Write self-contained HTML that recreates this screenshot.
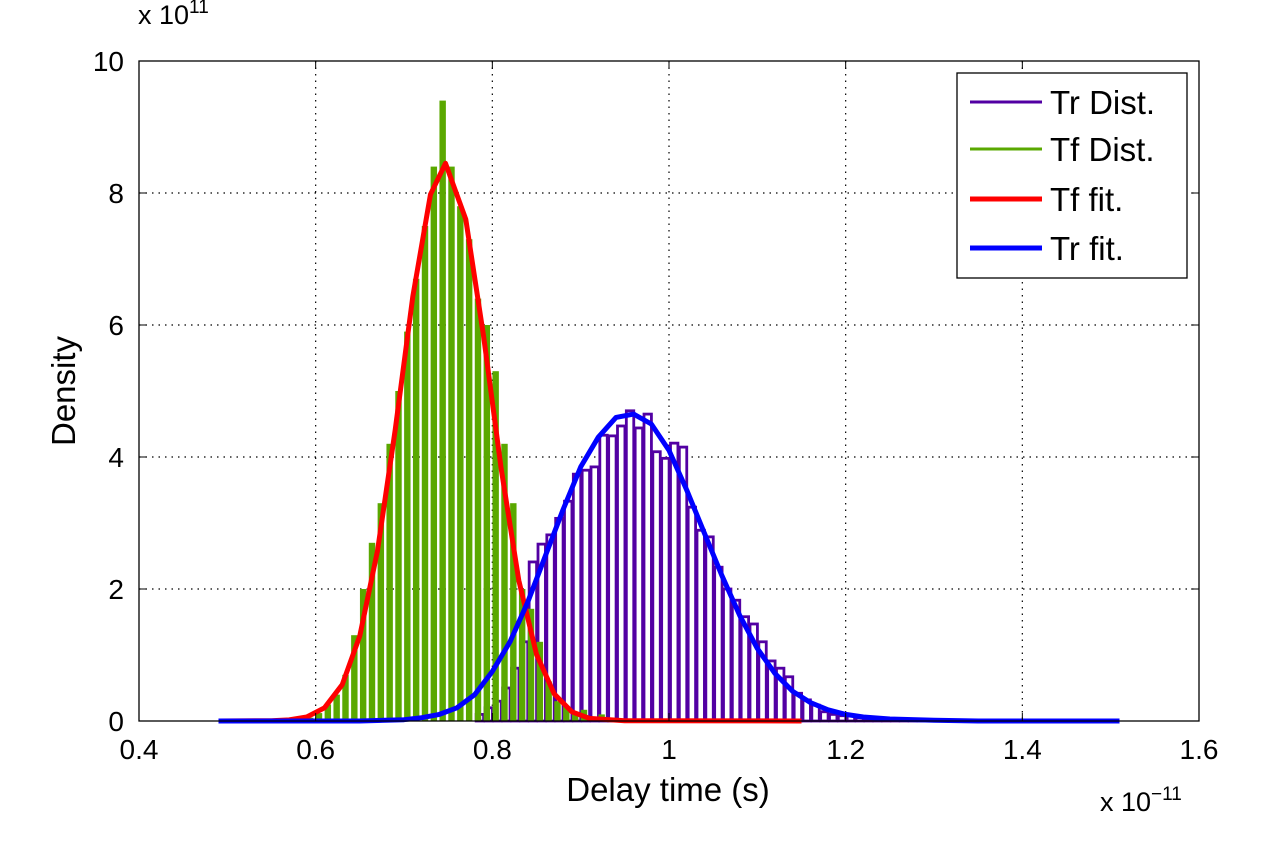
<!DOCTYPE html>
<html><head><meta charset="utf-8"><style>
body{margin:0;background:#fff;width:1269px;height:838px;overflow:hidden}
svg text{font-family:"Liberation Sans",Arial,sans-serif;fill:#000}
</style></head><body>
<svg id="chart" width="1269" height="838" xmlns="http://www.w3.org/2000/svg">
<g id="grid"></g>
<g id="bars"></g>
<g id="fits"></g>
<rect x="139" y="61" width="1060" height="660" fill="none" stroke="#000" stroke-width="1.3"/>
<g id="ticks"></g>
<text x="138" y="24" font-size="27">x 10<tspan font-size="19" dy="-11">11</tspan></text>
<text x="1100" y="811" font-size="27">x 10<tspan font-size="19" dy="-11">−11</tspan></text>
<text x="668" y="801" font-size="33" text-anchor="middle">Delay time (s)</text>
<text transform="translate(75,391) rotate(-90)" font-size="33" text-anchor="middle">Density</text>
<g>
<rect x="957" y="73" width="230" height="205" fill="#fff" stroke="#000" stroke-width="1.3"/>
<line x1="970" y1="102" x2="1042" y2="102" stroke="#5200a3" stroke-width="3"/>
<text x="1050" y="114" font-size="33">Tr Dist.</text>
<line x1="970" y1="149" x2="1042" y2="149" stroke="#5aa800" stroke-width="3"/>
<text x="1050" y="161" font-size="33">Tf Dist.</text>
<line x1="970" y1="199" x2="1042" y2="199" stroke="#ff0000" stroke-width="5"/>
<text x="1050" y="211" font-size="33">Tf fit.</text>
<line x1="970" y1="248" x2="1042" y2="248" stroke="#0000ff" stroke-width="5"/>
<text x="1050" y="260" font-size="33">Tr fit.</text>
</g>
</svg>
<script>
const xTicks=[0.4,0.6,0.8,1.0,1.2,1.4,1.6];
const xTickLabels=["0.4","0.6","0.8","1","1.2","1.4","1.6"];
const yTicks=[0,2,4,6,8,10];
const yTickLabels=["0","2","4","6","8","10"];
const binWidth=0.0101;
const tfBinStarts=[0.589,0.599,0.609,0.619,0.629,0.639,0.649,0.659,0.669,0.679,0.689,0.699,0.709,0.719,0.729,0.739,0.749,0.759,0.769,0.779,0.789,0.799,0.809,0.819,0.829,0.839,0.849,0.859,0.869,0.879,0.889,0.899,0.909,0.919];
const tfDensity=[0.05,0.12,0.25,0.4,0.7,1.3,2.0,2.7,3.3,4.2,5.0,5.9,6.7,7.5,8.4,9.4,8.4,7.8,7.3,6.4,6.0,5.3,4.2,3.3,2.0,1.7,1.2,0.6,0.3,0.22,0.1,0.17,0.05,0.1];
const trBinStarts=[0.78,0.79,0.80,0.81,0.82,0.83,0.84,0.85,0.86,0.87,0.88,0.89,0.90,0.91,0.92,0.93,0.94,0.95,0.96,0.97,0.98,0.99,1.00,1.01,1.02,1.03,1.04,1.05,1.06,1.07,1.08,1.09,1.10,1.11,1.12,1.13,1.14,1.15,1.16,1.17,1.18,1.19,1.20,1.21,1.22,1.23,1.24,1.25,1.26,1.27,1.28,1.29];
const trDensity=[0.1,0.2,0.3,0.5,0.8,1.2,2.41,2.68,2.82,3.07,3.33,3.74,3.8,3.85,4.33,4.32,4.47,4.7,4.44,4.65,4.08,3.98,4.21,4.15,3.24,2.89,2.79,2.33,2.0,1.83,1.58,1.47,1.2,0.91,0.8,0.67,0.42,0.32,0.24,0.14,0.1,0.08,0.08,0.05,0.04,0.04,0.03,0.03,0.02,0.02,0.02,0.02];
const tfFitX=[0.49,0.55,0.57,0.59,0.61,0.63,0.65,0.67,0.69,0.71,0.73,0.747,0.77,0.79,0.81,0.83,0.85,0.87,0.89,0.91,0.95,1.15];
const tfFitY=[0,0.004,0.016,0.06,0.2,0.55,1.29,2.58,4.41,6.43,7.98,8.45,7.6,5.84,3.82,2.13,1.01,0.41,0.14,0.04,0.005,0];
const trFitX=[0.49,0.65,0.70,0.72,0.74,0.76,0.78,0.80,0.82,0.84,0.86,0.88,0.90,0.92,0.94,0.96,0.98,1.00,1.02,1.04,1.06,1.08,1.10,1.12,1.14,1.16,1.18,1.20,1.22,1.25,1.30,1.35,1.51];
const trFitY=[0,0,0.02,0.05,0.1,0.2,0.4,0.75,1.2,1.8,2.5,3.2,3.85,4.3,4.6,4.65,4.5,4.1,3.5,2.85,2.2,1.6,1.1,0.72,0.45,0.28,0.17,0.1,0.06,0.03,0.01,0,0];
const NS='http://www.w3.org/2000/svg';
const X0=139,X1=1199,Y0=721,Y1=61;
const sx=v=>X0+(v-0.4)/1.2*(X1-X0);
const sy=v=>Y0-v/10*(Y0-Y1);
function mk(tag,attrs,parent){const e=document.createElementNS(NS,tag);for(const k in attrs)e.setAttribute(k,attrs[k]);parent.appendChild(e);return e;}
const grid=document.getElementById('grid'),ticks=document.getElementById('ticks'),bars=document.getElementById('bars'),fits=document.getElementById('fits');
xTicks.forEach((t,i)=>{const x=sx(t);
 if(i>0&&i<xTicks.length-1){const g=mk('line',{x1:x,y1:Y1,x2:x,y2:Y0,stroke:'#000','stroke-width':1.2,'stroke-dasharray':'1.5 5'},grid);
 
 }
 const tl=mk('text',{x:x,y:759,'font-size':28,'text-anchor':'middle'},ticks);tl.textContent=xTickLabels[i];
 
 
});
yTicks.forEach((t,i)=>{const y=sy(t);
 if(i>0&&i<yTicks.length-1){const g=mk('line',{x1:X0,y1:y,x2:X1,y2:y,stroke:'#000','stroke-width':1.2,'stroke-dasharray':'1.5 5'},grid);
 
 }
 const tl=mk('text',{x:124,y:y+10,'font-size':28,'text-anchor':'end'},ticks);tl.textContent=yTickLabels[i];
 
 
});
trBinStarts.forEach((b,i)=>{const x=sx(b)+1.5,w=sx(b+binWidth)-sx(b)-1.5,y=sy(trDensity[i]);
 const r=mk('rect',{x:x,y:y,width:w,height:Y0-y,fill:'#fff',stroke:'#5200a3','stroke-width':2.8},bars);
 
 
});
tfBinStarts.forEach((b,i)=>{const x=sx(b)+1,w=sx(b+binWidth)-sx(b)-2.5,y=sy(tfDensity[i]);
 const r=mk('rect',{x:x,y:y,width:w,height:Y0-y,fill:'#5aa800'},bars);
 
 
});
const pts=(xs,ys)=>xs.map((x,i)=>sx(x).toFixed(1)+','+sy(ys[i]).toFixed(1)).join(' ');
const red=mk('polyline',{points:pts(tfFitX,tfFitY),fill:'none',stroke:'#ff0000','stroke-width':5,'stroke-linejoin':'round'},fits);


const blue=mk('polyline',{points:pts(trFitX,trFitY),fill:'none',stroke:'#0000ff','stroke-width':5,'stroke-linejoin':'round'},fits);


xTicks.forEach(t=>{const x=sx(t);mk('line',{x1:x,y1:Y0,x2:x,y2:Y0-8,stroke:'#000'},ticks);mk('line',{x1:x,y1:Y1,x2:x,y2:Y1+8,stroke:'#000'},ticks);});
yTicks.forEach(t=>{const y=sy(t);mk('line',{x1:X0,y1:y,x2:X0+8,y2:y,stroke:'#000'},ticks);mk('line',{x1:X1,y1:y,x2:X1-8,y2:y,stroke:'#000'},ticks);});
</script>
</body></html>
